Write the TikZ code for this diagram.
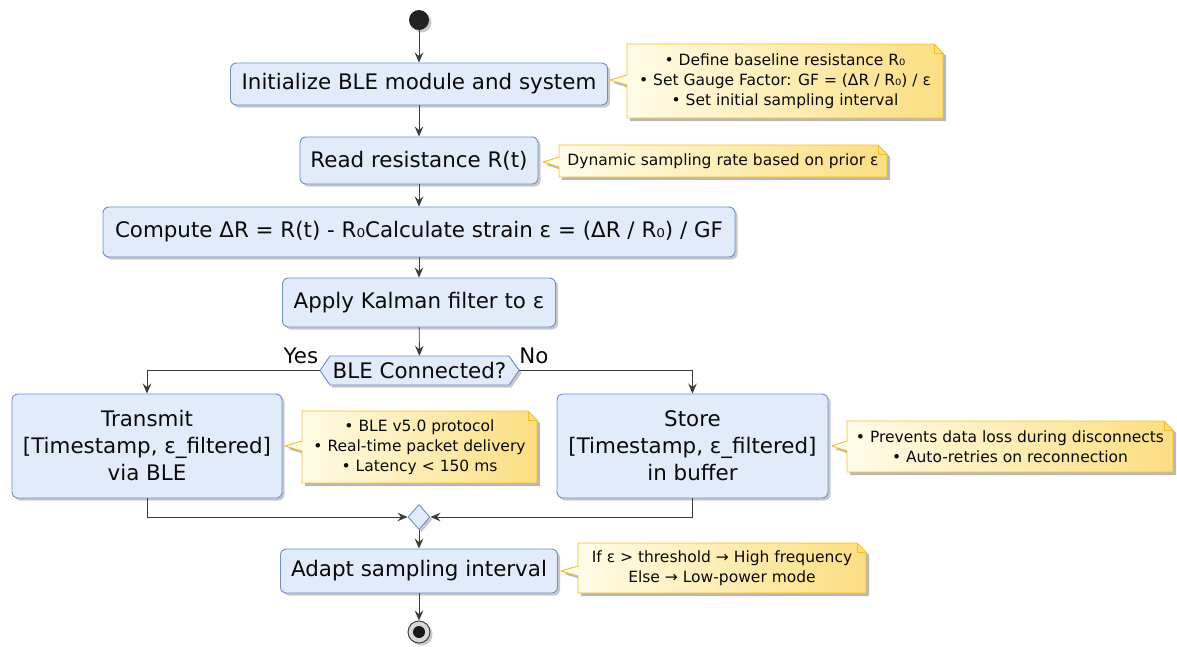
\documentclass[tikz,border=0pt]{standalone}
\usepackage{fontspec}
\setmainfont{DejaVu Sans}
\usetikzlibrary{arrows.meta,shapes.geometric,shadows,calc}
\definecolor{boxfill}{RGB}{226,235,250}
\definecolor{boxline}{RGB}{110,142,205}
\definecolor{notefillA}{RGB}{255,253,236}
\definecolor{notefillB}{RGB}{252,222,130}
\definecolor{noteline}{RGB}{245,190,40}
\definecolor{lineclr}{RGB}{60,60,60}
\definecolor{txt}{RGB}{10,10,10}
\definecolor{startclr}{RGB}{34,34,34}
\tikzset{
  shad/.style={drop shadow={shadow xshift=2.5pt, shadow yshift=-2.5pt, opacity=0.3, fill=black!70}},
  act/.style={draw=boxline, fill=boxfill, rounded corners=6pt, line width=0.9pt, align=center,
    font=\fontsize{21.4}{27}\selectfont, text=txt, inner sep=0pt, shad},
  lbl/.style={font=\fontsize{21.4}{27}\selectfont, text=txt, inner sep=0pt},
  notetext/.style={align=center, font=\fontsize{15.5}{20}\selectfont, text=txt, inner sep=0pt},
  arr/.style={draw=lineclr, line width=0.9pt, -{Stealth[length=10pt,width=8.5pt,inset=3.5pt]}},
}
\newcommand{\notebox}[8]{%
  \fill[black, opacity=0.28, shift={(3,3)}] (#2,#3) -- ({#4-9},#3) -- (#4,{#3+9}) -- (#4,#5) -- (#2,#5) -- (#2,{#7+5}) -- (#6,#7) -- (#2,{#7-5}) -- cycle;
  \shade[left color=notefillA, right color=notefillB] (#2,#3) -- ({#4-9},#3) -- (#4,{#3+9}) -- (#4,#5) -- (#2,#5) -- (#2,{#7+5}) -- (#6,#7) -- (#2,{#7-5}) -- cycle;
  \draw[noteline, line width=0.9pt, line join=round] (#2,#3) -- ({#4-9},#3) -- (#4,{#3+9}) -- (#4,#5) -- (#2,#5) -- (#2,{#7+5}) -- (#6,#7) -- (#2,{#7-5}) -- cycle;
  \draw[noteline, line width=0.9pt, line join=round] ({#4-9},#3) -- ({#4-9},{#3+9}) -- (#4,{#3+9});
  \node[notetext] (#1) at ({(#2+#4)/2},{(#3+#5)/2}) {#8};
}
\begin{document}
\begin{tikzpicture}[x=1pt,y=-1pt]
\useasboundingbox (0,0) rectangle (1177,646);
\fill[white] (0,0) rectangle (1177,646);

% start
\node[circle, fill=startclr, minimum size=20pt, inner sep=0pt, shad] (start) at (419,20) {};

% activities
\node[act, minimum width=377pt, minimum height=42pt] (init) at (419,84) {Initialize BLE module and system};
\node[act, minimum width=238pt, minimum height=47pt] (read) at (419,160.5) {Read resistance R(t)};
\node[act, minimum width=632pt, minimum height=50pt] (compute) at (419,232) {Compute ΔR = R(t) - R₀Calculate strain ε = (ΔR / R₀) / GF};
\node[act, minimum width=273pt, minimum height=49pt] (kalman) at (419,302.5) {Apply Kalman filter to ε};

% decision hexagon
\path[fill=boxfill, draw=boxline, line width=0.9pt, shad] (330,356) -- (509,356) -- (519,370.5) -- (509,385) -- (330,385) -- (320,370.5) -- cycle;
\node[lbl, minimum width=179pt, minimum height=29pt] (hex) at (419.5,370.5) {BLE Connected?};
\coordinate (hexL) at (320,370.5);
\coordinate (hexR) at (519,370.5);
\node[lbl] (yes) at (301,356) {Yes};
\node[lbl] (no) at (534,356) {No};

\node[act, minimum width=270pt, minimum height=104pt] (transmit) at (147,446) {Transmit\\{}{[}Timestamp, ε\_filtered{]}\\via BLE};
\node[act, minimum width=271pt, minimum height=104pt] (store) at (692.5,446) {Store\\{}{[}Timestamp, ε\_filtered{]}\\in buffer};

\node[diamond, draw=boxline, fill=boxfill, line width=0.9pt, minimum width=22pt, minimum height=25pt, inner sep=0pt, shad] (merge) at (419,517) {};

\node[act, minimum width=277pt, minimum height=44pt] (adapt) at (419,571) {Adapt sampling interval};

% end
\node[circle, draw=black!75, fill=gray!30, line width=1pt, minimum size=22pt, inner sep=0pt, shad] (end) at (419,632) {};
\node[circle, fill=black!90, minimum size=12pt, inner sep=0pt] (enddot) at (end) {};

% notes
\notebox{n1}{627}{44}{943}{118}{610}{80}{• Define baseline resistance R₀\\• Set Gauge Factor: GF = (ΔR / R₀) / ε\\• Set initial sampling interval}
\notebox{n2}{559}{145}{887}{177}{543}{162}{Dynamic sampling rate based on prior ε}
\notebox{n3}{302}{411}{537}{483}{285}{446}{• BLE v5.0 protocol\\• Real-time packet delivery\\• Latency < 150 ms}
\notebox{n4}{847}{421}{1173}{472}{832}{446}{• Prevents data loss during disconnects\\• Auto-retries on reconnection}
\notebox{n5}{578}{543}{866}{593}{561}{571}{If ε > threshold → High frequency\\Else → Low-power mode}

% connectors
\draw[arr] (start) -- (init);
\draw[arr] (init) -- (read);
\draw[arr] (read) -- (compute);
\draw[arr] (compute) -- (kalman);
\draw[arr] (kalman) -- (hex);
\draw[arr] (hexL) -| (transmit);
\draw[arr] (hexR) -| (store);
\draw[arr] (transmit) |- (merge);
\draw[arr] (store) |- (merge);
\draw[arr] (merge) -- (adapt);
\draw[arr] (adapt) -- (end);
\end{tikzpicture}
\end{document}
